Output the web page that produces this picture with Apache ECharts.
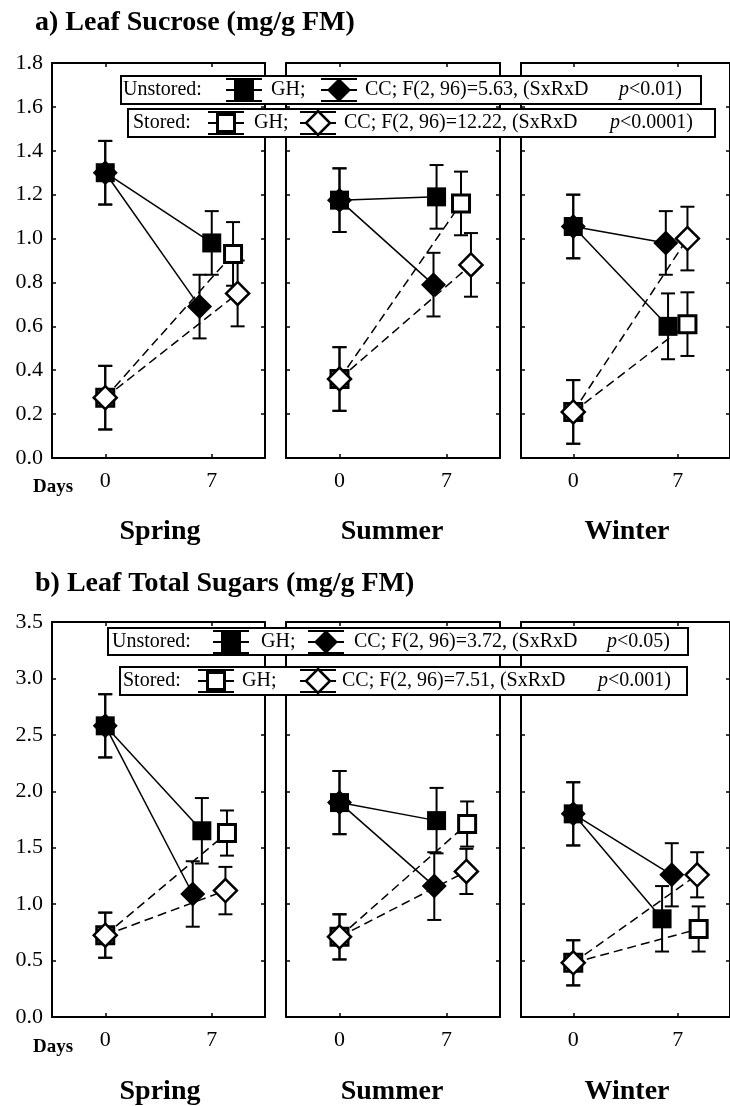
<!DOCTYPE html>
<html>
<head>
<meta charset="utf-8">
<script src="https://cdn.jsdelivr.net/npm/echarts@6/dist/echarts.min.js"></script>
<style>
html,body{margin:0;padding:0;background:#fff;}
#chart{width:730px;height:1106px;}
</style>
</head>
<body>
<div id="chart"></div>
<script>
// ---------- data ----------
const seasons = ['Spring', 'Summer', 'Winter'];
const dayTicks = [0, 7];
const sucroseTicks = [0, 0.2, 0.4, 0.6, 0.8, 1.0, 1.2, 1.4, 1.6, 1.8];
const totalTicks = [0, 0.5, 1.0, 1.5, 2.0, 2.5, 3.0, 3.5];

// Leaf sucrose (mg/g FM): [day0, day7] per season
const sucGHu = [[1.30, 0.98], [1.175, 1.19], [1.055, 0.60]];
const sucCCu = [[1.30, 0.69], [1.175, 0.79], [1.055, 0.98]];
const sucGHs = [[0.275, 0.93], [0.36, 1.16], [0.21, 0.61]];
const sucCCs = [[0.275, 0.75], [0.36, 0.88], [0.21, 1.00]];
const sucGHuErr = [[0.145, 0.145], [0.145, 0.145], [0.145, 0.15]];
const sucCCuErr = [[0.145, 0.145], [0.145, 0.145], [0.145, 0.145]];
const sucGHsErr = [[0.145, 0.145], [0.145, 0.145], [0.145, 0.145]];
const sucCCsErr = [[0.145, 0.15], [0.145, 0.145], [0.145, 0.145]];
// plotted day positions (points are offset around day 7)
const sucGHuX = [[0, 7.0], [0, 6.35], [0, 6.35]];
const sucCCuX = [[0, 6.2], [0, 6.15], [0, 6.2]];
const sucGHsX = [[0, 8.4], [0, 7.95], [0, 7.65]];
const sucCCsX = [[0, 8.7], [0, 8.6], [0, 7.65]];

// Leaf total sugars (mg/g FM)
const totGHu = [[2.58, 1.65], [1.90, 1.74], [1.80, 0.87]];
const totCCu = [[2.58, 1.09], [1.90, 1.16], [1.80, 1.26]];
const totGHs = [[0.725, 1.63], [0.71, 1.71], [0.48, 0.78]];
const totCCs = [[0.725, 1.12], [0.71, 1.29], [0.48, 1.26]];
const totGHuErr = [[0.28, 0.29], [0.28, 0.29], [0.28, 0.29]];
const totCCuErr = [[0.28, 0.29], [0.28, 0.30], [0.28, 0.28]];
const totGHsErr = [[0.20, 0.20], [0.20, 0.20], [0.20, 0.20]];
const totCCsErr = [[0.20, 0.21], [0.20, 0.20], [0.20, 0.20]];
const totGHuX = [[0, 6.35], [0, 6.35], [0, 5.95]];
const totCCuX = [[0, 5.75], [0, 6.2], [0, 6.6]];
const totGHsX = [[0, 8.0], [0, 8.35], [0, 8.4]];
const totCCsX = [[0, 7.9], [0, 8.3], [0, 8.3]];

// ---------- layout ----------
const FONT = '"Liberation Serif", "Times New Roman", serif';
const panelLeft = [52, 286, 521];
const panelWidth = [213, 214, 215];
const panelTop = [63, 622];
const panelHeight = 395;

const rows = [
  {ticks: sucroseTicks, GHu: sucGHu, CCu: sucCCu, GHs: sucGHs, CCs: sucCCs,
   GHuE: sucGHuErr, CCuE: sucCCuErr, GHsE: sucGHsErr, CCsE: sucCCsErr,
   GHuX: sucGHuX, CCuX: sucCCuX, GHsX: sucGHsX, CCsX: sucCCsX},
  {ticks: totalTicks, GHu: totGHu, CCu: totCCu, GHs: totGHs, CCs: totCCs,
   GHuE: totGHuErr, CCuE: totCCuErr, GHsE: totGHsErr, CCsE: totCCsErr,
   GHuX: totGHuX, CCuX: totCCuX, GHsX: totGHsX, CCsX: totCCsX}
];

const grid = [], xAxis = [], yAxis = [], series = [];
const lineBlack = {color: '#000', width: 2};

function errRender(params, api) {
  const x = api.value(0), y = api.value(1), e = api.value(2);
  const t = api.coord([x, y + e]), b = api.coord([x, y - e]);
  const hw = 7;
  const st = {stroke: '#000', lineWidth: 2, fill: null};
  return {type: 'group', children: [
    {type: 'line', shape: {x1: t[0], y1: t[1], x2: b[0], y2: b[1]}, style: st},
    {type: 'line', shape: {x1: t[0] - hw, y1: t[1], x2: t[0] + hw, y2: t[1]}, style: st},
    {type: 'line', shape: {x1: b[0] - hw, y1: b[1], x2: b[0] + hw, y2: b[1]}, style: st}
  ]};
}

rows.forEach((r, ri) => {
  const tk = r.ticks;
  const ymin = tk[0], ymax = tk[tk.length - 1], yint = tk[1] - tk[0];
  for (let c = 0; c < 3; c++) {
    const p = ri * 3 + c;
    grid.push({left: panelLeft[c], top: panelTop[ri], width: panelWidth[c], height: panelHeight});
    const xBase = {type: 'value', gridIndex: p, min: -3.5, max: 10.5, splitLine: {show: false},
      axisLine: {show: true, onZero: false, lineStyle: lineBlack}};
    xAxis.push(Object.assign({}, xBase, {position: 'bottom',
      axisTick: {show: true, inside: true, length: 4, customValues: dayTicks, lineStyle: {color: '#000', width: 1.5}},
      axisLabel: {show: true, customValues: dayTicks, margin: 12, color: '#000', fontFamily: FONT, fontSize: 22}}));
    xAxis.push(Object.assign({}, xBase, {position: 'top',
      axisTick: {show: true, inside: true, length: 4, customValues: dayTicks, lineStyle: {color: '#000', width: 1.5}},
      axisLabel: {show: false}}));
    const yBase = {type: 'value', gridIndex: p, min: ymin, max: ymax, interval: yint, splitLine: {show: false},
      axisLine: {show: true, onZero: false, lineStyle: lineBlack},
      axisTick: {show: true, inside: true, length: 4, lineStyle: {color: '#000', width: 1.5}}};
    yAxis.push(Object.assign({}, yBase, {position: 'left',
      axisLabel: {show: c === 0, margin: 9, color: '#000', fontFamily: FONT, fontSize: 22,
        formatter: v => v.toFixed(1)}}));
    yAxis.push(Object.assign({}, yBase, {position: 'right', axisLabel: {show: false}}));

    const ax = {xAxisIndex: 2 * p, yAxisIndex: 2 * p};
    const pts = (Y, X) => [[X[c][0], Y[c][0]], [X[c][1], Y[c][1]]];
    const errs = (Y, X, E) => [[X[c][0], Y[c][0], E[c][0]], [X[c][1], Y[c][1], E[c][1]]];

    // connecting lines
    [['GHu', 'solid'], ['CCu', 'solid'], ['GHs', 'dashed'], ['CCs', 'dashed']].forEach(([k, ls]) => {
      series.push(Object.assign({type: 'line', data: pts(r[k], r[k + 'X']), symbol: 'none', silent: true,
        animation: false, z: 2,
        lineStyle: {color: '#000', width: 1.5, type: ls === 'dashed' ? [9, 5] : 'solid'}}, ax));
    });
    // error bars
    ['GHu', 'CCu', 'GHs', 'CCs'].forEach(k => {
      series.push(Object.assign({type: 'custom', renderItem: errRender, data: errs(r[k], r[k + 'X'], r[k + 'E']),
        animation: false, z: 3, encode: {x: 0, y: 1}}, ax));
    });
    // markers (order: CC unstored, GH unstored, GH stored, CC stored)
    const mk = [
      ['CCu', 'diamond', 25, {color: '#000'}],
      ['GHu', 'rect', 19, {color: '#000'}],
      ['GHs', 'rect', 17, {color: '#fff', borderColor: '#000', borderWidth: 3}],
      ['CCs', 'diamond', 23, {color: '#fff', borderColor: '#000', borderWidth: 2.5}]
    ];
    mk.forEach(([k, sym, sz, st], i) => {
      series.push(Object.assign({type: 'scatter', data: pts(r[k], r[k + 'X']), symbol: sym, symbolSize: sz,
        itemStyle: Object.assign({opacity: 1}, st), animation: false, z: 4 + i}, ax));
    });
  }
});

// ---------- annotations (titles, legends, labels) ----------
const graphic = [];
function tx(x, y, text, size, bold, align, rich) {
  graphic.push({type: 'text', x: x, y: y, z: 100,
    style: {text: text, fill: '#000', fontFamily: FONT, fontSize: size, fontWeight: bold ? 'bold' : 'normal',
      verticalAlign: 'middle', align: align || 'left', rich: rich}});
}
function box(x, y, w, h) {
  graphic.push({type: 'rect', x: x, y: y, z: 90, shape: {width: w, height: h},
    style: {fill: '#fff', stroke: '#000', lineWidth: 2}});
}
function icon(cx, cy, shape, filled) {
  const st = {stroke: '#000', lineWidth: 2, fill: null};
  const hw = 18, hh = 11;
  const seg = (x1, y1, x2, y2) => graphic.push({type: 'line', z: 95, shape: {x1, y1, x2, y2}, style: st});
  seg(cx - hw, cy - hh, cx + hw, cy - hh);
  seg(cx - hw, cy + hh, cx + hw, cy + hh);
  seg(cx - hw, cy, cx + hw, cy);
  seg(cx, cy - hh, cx, cy + hh);
  if (shape === 'square') {
    const s = filled ? 20 : 17;
    graphic.push({type: 'rect', z: 96, shape: {x: cx - s / 2, y: cy - s / 2, width: s, height: s},
      style: {fill: filled ? '#000' : '#fff', stroke: '#000', lineWidth: filled ? 0 : 3}});
  } else {
    const s = 12;
    graphic.push({type: 'polygon', z: 96, shape: {points: [[cx, cy - s], [cx + s, cy], [cx, cy + s], [cx - s, cy]]},
      style: {fill: filled ? '#000' : '#fff', stroke: '#000', lineWidth: filled ? 0 : 2.5}});
  }
}
const pRich = {i: {fontStyle: 'italic', fontFamily: FONT, fontSize: 20, fill: '#000'},
               n: {fontFamily: FONT, fontSize: 20, fill: '#000'}};

// titles
tx(35, 23, 'a) Leaf Sucrose (mg/g FM)', 28, true);
tx(35, 584, 'b) Leaf Total Sugars (mg/g FM)', 28, true);

// legend a
box(121, 76, 580, 28);
tx(123, 90, 'Unstored:', 20);
icon(244, 90, 'square', true);
tx(271, 90, 'GH;', 20);
icon(339, 90, 'diamond', true);
tx(365, 90, 'CC; F(2, 96)=5.63, (SxRxD', 20);
tx(619, 90, '{i|p}{n|<0.01)}', 20, false, 'left', pRich);
box(128, 109, 587, 28);
tx(133, 123, 'Stored:', 20);
icon(226, 123, 'square', false);
tx(254, 123, 'GH;', 20);
icon(318, 123, 'diamond', false);
tx(344, 123, 'CC; F(2, 96)=12.22, (SxRxD', 20);
tx(610, 123, '{i|p}{n|<0.0001)}', 20, false, 'left', pRich);

// legend b
box(108, 628, 580, 27);
tx(112, 642, 'Unstored:', 20);
icon(231, 642, 'square', true);
tx(261, 642, 'GH;', 20);
icon(326, 642, 'diamond', true);
tx(354, 642, 'CC; F(2, 96)=3.72, (SxRxD', 20);
tx(607, 642, '{i|p}{n|<0.05)}', 20, false, 'left', pRich);
box(120, 667, 567, 28);
tx(123, 681, 'Stored:', 20);
icon(216, 681, 'square', false);
tx(242, 681, 'GH;', 20);
icon(318, 681, 'diamond', false);
tx(342, 681, 'CC; F(2, 96)=7.51, (SxRxD', 20);
tx(598, 681, '{i|p}{n|<0.001)}', 20, false, 'left', pRich);

// days + seasons
const seasonX = [160, 392, 627];
[0, 1].forEach(ri => {
  const off = ri * 560;
  tx(33, 487 + off, 'Days', 19, true);
  seasons.forEach((s, i) => tx(seasonX[i], 532 + off, s, 28, true, 'center'));
});

const chart = echarts.init(document.getElementById('chart'), null, {renderer: 'canvas'});
chart.setOption({
  backgroundColor: '#fff',
  animation: false,
  grid: grid, xAxis: xAxis, yAxis: yAxis, series: series, graphic: graphic
});
</script>
</body>
</html>
